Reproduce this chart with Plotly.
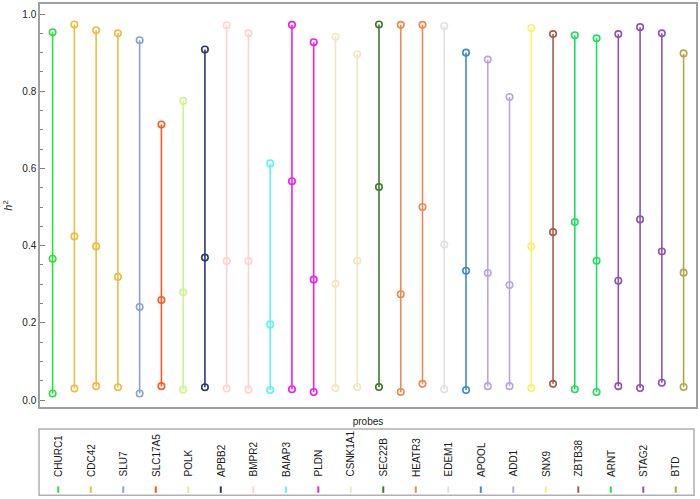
import plotly.graph_objects as go

# ---- data ----
genes = ["CHURC1", "CDC42", "SLU7", "SLC17A5", "POLK", "APBB2", "BMPR2", "BAIAP3",
         "PLDN", "CSNK1A1", "SEC22B", "HEATR3", "EDEM1", "APOOL", "ADD1", "SNX9",
         "ZBTB38", "ARNT", "STAG2", "BTD"]
gene_colors = ["#2ee03c", "#efbd3d", "#8ca2d2", "#ff5a22", "#cdf58c", "#2d3677",
               "#ffd2cf", "#5ef4f4", "#f01ef0", "#f1e7bf", "#3e7a2f", "#ee8a4f",
               "#e0e0e0", "#3a8dc8", "#b9a7d9", "#fdef6e", "#a65f4b", "#1fe05e",
               "#8e55b0", "#b0a84a"]

# gene of each probe (one vertical line per probe)
probe_gene = ["CHURC1", "CDC42", "CDC42", "CDC42", "SLU7", "SLC17A5", "POLK", "APBB2",
              "BMPR2", "BMPR2", "BAIAP3", "PLDN", "PLDN", "CSNK1A1", "CSNK1A1", "SEC22B",
              "HEATR3", "HEATR3", "EDEM1", "APOOL", "ADD1", "ADD1", "SNX9", "ZBTB38",
              "ARNT", "ARNT", "STAG2", "STAG2", "STAG2", "BTD"]
h2_low = [0.017, 0.030, 0.036, 0.033, 0.017, 0.036, 0.027, 0.033, 0.030, 0.027,
          0.026, 0.028, 0.021, 0.031, 0.034, 0.034, 0.021, 0.042, 0.028, 0.026,
          0.036, 0.036, 0.031, 0.042, 0.028, 0.021, 0.036, 0.031, 0.045, 0.034]
h2_mid = [0.366, 0.424, 0.398, 0.319, 0.241, 0.259, 0.279, 0.369, 0.360, 0.360,
          0.196, 0.567, 0.312, 0.301, 0.361, 0.552, 0.274, 0.500, 0.403, 0.335,
          0.329, 0.298, 0.398, 0.435, 0.461, 0.361, 0.309, 0.468, 0.385, 0.330]
h2_high = [0.953, 0.973, 0.958, 0.950, 0.932, 0.714, 0.775, 0.908, 0.971, 0.950,
           0.613, 0.972, 0.927, 0.941, 0.896, 0.973, 0.972, 0.972, 0.969, 0.900,
           0.882, 0.785, 0.964, 0.948, 0.945, 0.937, 0.948, 0.966, 0.950, 0.898]

color_of = dict(zip(genes, gene_colors))
FONT = "Liberation Sans, Arial, sans-serif"

fig = go.Figure()
for i, g in enumerate(probe_gene):
    c = color_of[g]
    fig.add_trace(go.Scatter(
        x=[i + 1] * 3,
        y=[h2_low[i], h2_mid[i], h2_high[i]],
        mode="lines+markers",
        line=dict(color=c, width=1.6),
        marker=dict(symbol="circle-open", size=6.5, color=c, line=dict(width=1.6, color=c)),
        name=g, showlegend=False, hoverinfo="x+y+name",
    ))

# ---- custom legend (rotated labels with short swatches) ----
shapes = [dict(type="rect", xref="paper", yref="paper",
               x0=-0.0015, x1=0.997, y0=-0.219, y1=-0.0543,
               line=dict(color="#b0b0b0", width=1.5), fillcolor="rgba(0,0,0,0)")]
annotations = []
for k, (g, c) in enumerate(zip(genes, gene_colors)):
    xp = (58.3 + k * 32.55 - 40) / 657
    annotations.append(dict(x=xp, y=-0.178, xref="paper", yref="paper", text=g,
                            textangle=-90, showarrow=False, xanchor="center", yanchor="bottom",
                            font=dict(family=FONT, size=10, color="#1a1a1a")))
    shapes.append(dict(type="line", xref="paper", yref="paper", x0=xp, x1=xp,
                       y0=-0.213, y1=-0.197, line=dict(color=c, width=2)))

fig.update_layout(
    width=700, height=499,
    margin=dict(l=40, r=3, t=2, b=92),
    paper_bgcolor="white", plot_bgcolor="white",
    font=dict(family=FONT, size=10, color="#222222"),
    shapes=shapes, annotations=annotations,
    xaxis=dict(range=[0.42, 30.57], showticklabels=False, ticks="", showgrid=False,
               zeroline=False, showline=True, mirror=True, linecolor="#a0a0a0", linewidth=1.5,
               title=dict(text="probes", font=dict(size=10, color="#222222"), standoff=10)),
    yaxis=dict(range=[-0.018, 1.026], tickvals=[0.0, 0.2, 0.4, 0.6, 0.8, 1.0],
               ticktext=["0.0", "0.2", "0.4", "0.6", "0.8", "1.0"],
               ticks="inside", ticklen=5, tickcolor="#808080", tickwidth=1,
               minor=dict(dtick=0.05, tick0=0, ticks="inside", ticklen=3, tickcolor="#808080"),
               showgrid=False, zeroline=False, showline=True, mirror=True,
               linecolor="#a0a0a0", linewidth=1.5,
               tickfont=dict(size=10, color="#222222"),
               title=dict(text="<i>h</i><sup>2</sup>", font=dict(size=11, color="#222222"),
                          standoff=7)),
)

fig.write_html("out.html", config={"displayModeBar": False},
               post_script="document.body.style.margin='0';document.body.style.overflow='hidden';")
